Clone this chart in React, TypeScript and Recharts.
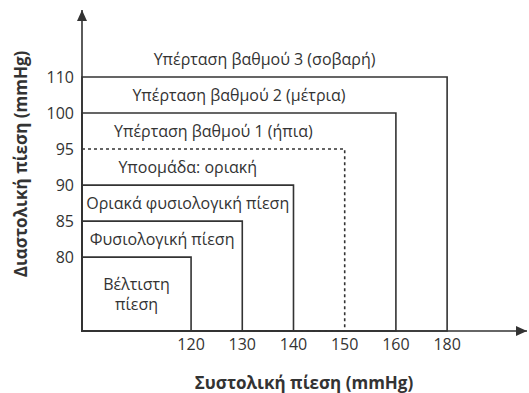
import React from 'react';
import { ScatterChart, Scatter, XAxis, YAxis, ReferenceArea, ReferenceDot } from 'recharts';

// tick labels (axes are evenly spaced by index, not by value)
const systolic = ['120', '130', '140', '150', '160', '180'];
const diastolic = ['80', '85', '90', '95', '100', '110'];

// box i runs from the origin up to (systolic[i], diastolic[i]); box 3 is dotted
const dottedBox = 3;

const zoneNames = [
    ['Βέλτιστη', 'πίεση'],
    ['Φυσιολογική πίεση'],
    ['Οριακά φυσιολογική πίεση'],
    ['Υποομάδα: οριακή'],
    ['Υπέρταση βαθμού 1 (ήπια)'],
    ['Υπέρταση βαθμού 2 (μέτρια)'],
    ['Υπέρταση βαθμού 3 (σοβαρή)'],
];
// box each name is centred on
const zoneBox = [0, 1, 2, 2, 3, 4, 5];

const X_MIN = -2.13;
const X_MAX = 6.56;
const Y_MIN = -2.05;
const Y_MAX = 6.86;
const INK = '#333';
const FONT = '"Open Sans", "Noto Sans", sans-serif';

const labelPoints = zoneNames.map((lines, k) => ({
    x: (X_MIN + zoneBox[k]) / 2,
    y: k === 0 ? Y_MIN / 2 : k - 0.5,
    lines,
}));

const ZoneText = (props: any) => {
    const { cx, cy, payload } = props;
    const lh = 20;
    const lines: string[] = payload.lines;
    return (
        <text
            x={cx}
            y={cy - ((lines.length - 1) * lh) / 2}
            textAnchor="middle"
            dominantBaseline="central"
            fontSize={16}
            fill={INK}
            fontFamily={FONT}
        >
            {lines.map((l, i) => (
                <tspan key={i} x={cx} dy={i === 0 ? 0 : lh}>{l}</tspan>
            ))}
        </text>
    );
};

const ArrowRight = ({ cx, cy }: any) => (
    <polygon points={`${cx},${cy} ${cx - 11},${cy - 5} ${cx - 11},${cy + 5}`} fill={INK} />
);
const ArrowUp = ({ cx, cy }: any) => (
    <polygon points={`${cx},${cy} ${cx - 5},${cy + 11} ${cx + 5},${cy + 11}`} fill={INK} />
);

export default function App() {
    return (
        <div style={{ position: 'absolute', left: 0, top: 0, background: '#fff' }}>
            <ScatterChart
                width={529}
                height={393}
                margin={{ top: 10, right: 2, bottom: 32, left: 22 }}
                style={{ fontFamily: FONT }}
            >
                <XAxis
                    type="number"
                    dataKey="x"
                    domain={[X_MIN, X_MAX]}
                    allowDataOverflow
                    ticks={[0, 1, 2, 3, 4, 5]}
                    tickFormatter={(v) => systolic[v]}
                    axisLine={{ stroke: INK, strokeWidth: 1.6 }}
                    tickLine={false}
                    tick={{ fill: INK, fontSize: 16 }}
                    height={30}
                    label={{
                        content: () => (
                            <text x={304} y={382} textAnchor="middle" dominantBaseline="central"
                                fontSize={17} fontWeight="bold" fill={INK} fontFamily={FONT}>
                                Συστολική πίεση (mmHg)
                            </text>
                        ),
                    }}
                />
                <YAxis
                    type="number"
                    dataKey="y"
                    domain={[Y_MIN, Y_MAX]}
                    allowDataOverflow
                    ticks={[0, 1, 2, 3, 4, 5]}
                    tickFormatter={(v) => diastolic[v]}
                    axisLine={{ stroke: INK, strokeWidth: 1.6 }}
                    tickLine={false}
                    tick={{ fill: INK, fontSize: 16 }}
                    width={60}
                    label={{
                        content: () => (
                            <text transform="translate(20,164) rotate(-90)" textAnchor="middle"
                                dominantBaseline="central" fontSize={17} fontWeight="bold" fill={INK} fontFamily={FONT}>
                                Διαστολική πίεση (mmHg)
                            </text>
                        ),
                    }}
                />
                {systolic.map((_, i) => (
                    <ReferenceArea
                        key={i}
                        x1={X_MIN}
                        x2={i}
                        y1={Y_MIN}
                        y2={i}
                        fill="none"
                        fillOpacity={0}
                        stroke={INK}
                        strokeWidth={1.6}
                        strokeDasharray={i === dottedBox ? '3 3' : undefined}
                        ifOverflow="visible"
                    />
                ))}
                <ReferenceDot x={X_MAX} y={Y_MIN} ifOverflow="visible" shape={ArrowRight} />
                <ReferenceDot x={X_MIN} y={Y_MAX} ifOverflow="visible" shape={ArrowUp} />
                <Scatter data={labelPoints} shape={ZoneText} isAnimationActive={false} />
            </ScatterChart>
        </div>
    );
}
